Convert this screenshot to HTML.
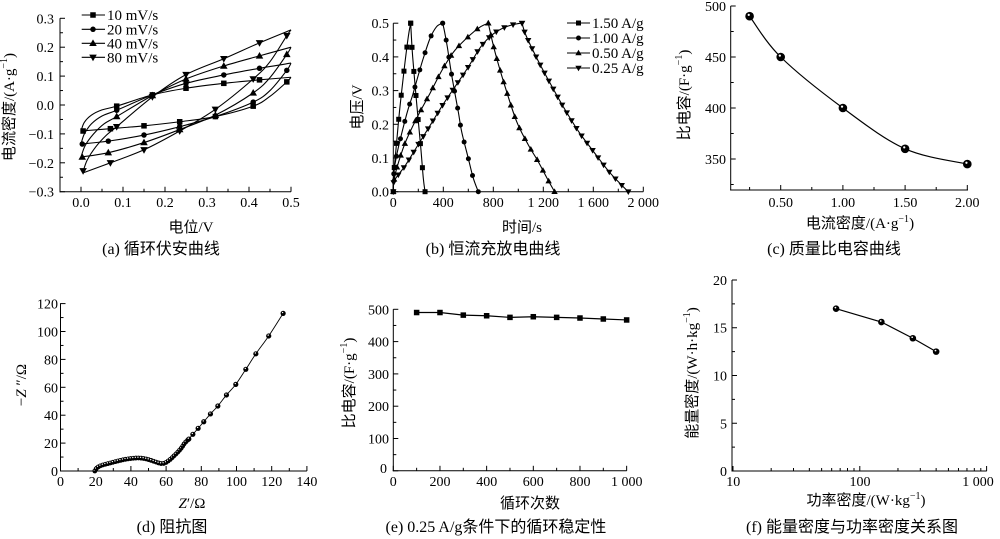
<!DOCTYPE html>
<html><head><meta charset="utf-8">
<style>
html,body{margin:0;padding:0;background:#fff;}
svg{display:block;}
text{font-family:"Liberation Serif","WenQuanYi Zen Hei","Noto Sans CJK SC",serif;fill:#000;}
.t{font-size:14px;}
.lg{font-size:15px;}
.al{font-size:15px;font-family:"Liberation Serif","WenQuanYi Zen Hei","Noto Sans CJK SC",sans-serif;}
.cp{font-size:16px;font-family:"Liberation Serif","WenQuanYi Zen Hei","Noto Sans CJK SC",sans-serif;}
</style></head><body>
<svg id="s" width="1000" height="539" viewBox="0 0 1000 539" xmlns="http://www.w3.org/2000/svg">
<rect width="1000" height="539" fill="#fff"/>

<!-- (a) -->
<g class="t" text-anchor="end">
<text x="54" y="23.3">0.3</text><text x="54" y="52.2">0.2</text><text x="54" y="81.1">0.1</text><text x="54" y="110">0.0</text>
<text x="54" y="138.9">−0.1</text><text x="54" y="167.8">−0.2</text><text x="54" y="196.7">−0.3</text>
</g>
<g class="t" text-anchor="middle">
<text x="81" y="207">0.0</text><text x="123" y="207">0.1</text><text x="165" y="207">0.2</text><text x="207" y="207">0.3</text><text x="249" y="207">0.4</text><text x="291" y="207">0.5</text>
</g>
<g class="lg">
<text x="107" y="20">10 mV/s</text><text x="107" y="34.3">20 mV/s</text><text x="107" y="48.3">40 mV/s</text><text x="107" y="62.3">80 mV/s</text>
</g>
<text class="al" text-anchor="middle" dominant-baseline="central" transform="rotate(-90 10 107)" x="10" y="107">电流密度/(A·g<tspan font-size="10" dy="-6">−1</tspan><tspan dy="6">)</tspan></text>
<text class="al" text-anchor="middle" x="191" y="232">电位/V</text>
<text class="cp" text-anchor="middle" x="161" y="254">(a) 循环伏安曲线</text>

<!-- (b) -->
<g class="t" text-anchor="end">
<text x="389" y="28.2">0.5</text><text x="389" y="61.9">0.4</text><text x="389" y="95.6">0.3</text><text x="389" y="129.3">0.2</text><text x="389" y="163">0.1</text><text x="389" y="196.7">0.0</text>
</g>
<g class="t" text-anchor="middle">
<text x="393.3" y="207">0</text><text x="443.3" y="207">400</text><text x="493.3" y="207">800</text><text x="543.3" y="207">1 200</text><text x="593.3" y="207">1 600</text><text x="643.3" y="207">2 000</text>
</g>
<g class="lg">
<text x="592" y="28">1.50 A/g</text><text x="592" y="43">1.00 A/g</text><text x="592" y="58">0.50 A/g</text><text x="592" y="73">0.25 A/g</text>
</g>
<text class="al" text-anchor="middle" dominant-baseline="central" transform="rotate(-90 358 107)" x="358" y="107">电压/V</text>
<text class="al" text-anchor="middle" x="522" y="232">时间/s</text>
<text class="cp" text-anchor="middle" x="493" y="254">(b) 恒流充放电曲线</text>

<!-- (c) -->
<g class="t" text-anchor="end">
<text x="726" y="11">500</text><text x="726" y="62">450</text><text x="726" y="113">400</text><text x="726" y="164">350</text>
</g>
<g class="t" text-anchor="middle">
<text x="780.7" y="207">0.50</text><text x="842.9" y="207">1.00</text><text x="905.1" y="207">1.50</text><text x="967.3" y="207">2.00</text>
</g>
<text class="al" text-anchor="middle" dominant-baseline="central" transform="rotate(-90 685 95)" x="685" y="95">比电容/(F·g<tspan font-size="10" dy="-6">−1</tspan><tspan dy="6">)</tspan></text>
<text class="al" text-anchor="middle" x="860" y="228">电流密度/(A·g<tspan font-size="10" dy="-6">−1</tspan><tspan dy="6">)</tspan></text>
<text class="cp" text-anchor="middle" x="834" y="254">(c) 质量比电容曲线</text>

<!-- (d) -->
<g class="t" text-anchor="end">
<text x="58" y="308.6">120</text><text x="58" y="336.5">100</text><text x="58" y="364.4">80</text><text x="58" y="392.3">60</text><text x="58" y="420.2">40</text><text x="58" y="448.1">20</text><text x="58" y="476">0</text>
</g>
<g class="t" text-anchor="middle">
<text x="60.5" y="486">0</text><text x="95.7" y="486">20</text><text x="130.9" y="486">40</text><text x="166.1" y="486">60</text><text x="201.3" y="486">80</text><text x="236.5" y="486">100</text><text x="271.7" y="486">120</text><text x="306.9" y="486">140</text>
</g>
<text class="al" text-anchor="middle" dominant-baseline="central" transform="rotate(-90 22 385)" x="22" y="385">−<tspan font-style="italic">Z</tspan> ″/Ω</text>
<text class="al" text-anchor="middle" x="192" y="508"><tspan font-style="italic">Z</tspan>′/Ω</text>
<text class="cp" text-anchor="middle" x="172" y="532">(d) 阻抗图</text>

<!-- (e) -->
<g class="t" text-anchor="end">
<text x="389" y="314.3">500</text><text x="389" y="346.6">400</text><text x="389" y="378.9">300</text><text x="389" y="411.2">200</text><text x="389" y="443.5">100</text><text x="387" y="473">0</text>
</g>
<g class="t" text-anchor="middle">
<text x="393.3" y="486">0</text><text x="440" y="486">200</text><text x="486.7" y="486">400</text><text x="533.3" y="486">600</text><text x="580" y="486">800</text><text x="626.7" y="486">1 000</text>
</g>
<text class="al" text-anchor="middle" dominant-baseline="central" transform="rotate(-90 350 383)" x="350" y="383">比电容/(F·g<tspan font-size="10" dy="-6">−1</tspan><tspan dy="6">)</tspan></text>
<text class="al" text-anchor="middle" x="530" y="508">循环次数</text>
<text class="cp" text-anchor="middle" x="496" y="532">(e) 0.25 A/g条件下的循环稳定性</text>

<!-- (f) -->
<g class="t" text-anchor="end">
<text x="727" y="285">20</text><text x="727" y="332.7">15</text><text x="727" y="380.3">10</text><text x="727" y="428.3">5</text><text x="727" y="476">0</text>
</g>
<g class="t" text-anchor="middle">
<text x="733.3" y="486">10</text><text x="860" y="486">100</text><text x="978" y="486">1 000</text>
</g>
<text class="al" text-anchor="middle" dominant-baseline="central" transform="rotate(-90 693 373)" x="693" y="373">能量密度/(W·h·kg<tspan font-size="10" dy="-6">−1</tspan><tspan dy="6">)</tspan></text>
<text class="al" text-anchor="middle" x="866" y="505">功率密度/(W·kg<tspan font-size="10" dy="-6">−1</tspan><tspan dy="6">)</tspan></text>
<text class="cp" text-anchor="middle" x="852" y="532">(f) 能量密度与功率密度关系图</text>
</svg>

<script>
const NS="http://www.w3.org/2000/svg";
const svg=document.getElementById('s');
function el(tag,attrs){const e=document.createElementNS(NS,tag);for(const k in attrs)e.setAttribute(k,attrs[k]);svg.appendChild(e);return e;}
function line(x1,y1,x2,y2,w){el('line',{x1:x1,y1:y1,x2:x2,y2:y2,stroke:'#000','stroke-width':w||1});}
function cr(pts){
  let d='M'+pts[0][0].toFixed(2)+','+pts[0][1].toFixed(2);
  for(let i=0;i<pts.length-1;i++){
    const p0=pts[i-1]||pts[i],p1=pts[i],p2=pts[i+1],p3=pts[i+2]||p2;
    const c1=[p1[0]+(p2[0]-p0[0])/6,p1[1]+(p2[1]-p0[1])/6];
    const c2=[p2[0]-(p3[0]-p1[0])/6,p2[1]-(p3[1]-p1[1])/6];
    d+='C'+c1[0].toFixed(2)+','+c1[1].toFixed(2)+' '+c2[0].toFixed(2)+','+c2[1].toFixed(2)+' '+p2[0].toFixed(2)+','+p2[1].toFixed(2);
  }
  return d;
}
function poly(pts){return 'M'+pts.map(p=>p[0].toFixed(2)+','+p[1].toFixed(2)).join('L');}
function path(d,w){return el('path',{d:d,fill:'none',stroke:'#000','stroke-width':w||1.1});}
function mk(t,x,y,s){
  if(t=='sq') el('rect',{x:x-s/2,y:y-s/2,width:s,height:s,fill:'#000'});
  else if(t=='ci') el('circle',{cx:x,cy:y,r:s/2,fill:'#000'});
  else if(t=='up') el('polygon',{points:x+','+(y-s*0.6)+' '+(x-s*0.58)+','+(y+s*0.42)+' '+(x+s*0.58)+','+(y+s*0.42),fill:'#000'});
  else if(t=='dn') el('polygon',{points:x+','+(y+s*0.6)+' '+(x-s*0.58)+','+(y-s*0.42)+' '+(x+s*0.58)+','+(y-s*0.42),fill:'#000'});
  else if(t=='ball'){el('circle',{cx:x,cy:y,r:s/2,fill:'#000'});el('circle',{cx:x-s*0.1,cy:y-s*0.16,r:Math.max(0.7,s*0.13),fill:'#fff'});}
}
function axes(x0,y0,x1,y1,xt,yt){
  line(x0,y0+0.5,x0,y1);line(x0-0.5,y0,x1,y0);
  yt.forEach(a=>line(x0,a[0],x0+(a[1]?5:3),a[0]));
  xt.forEach(a=>line(a[0],y0,a[0],y0-(a[1]?5:3)));
}
function tk(n0,n1,step,me,map){const a=[];for(let i=n0;i<=n1;i++){a.push([map(i*step),Math.abs(i%me)===0]);}return a;}

/* ---------- (a) ---------- */
{
const X=x=>81+x*420,Y=y=>105-y*289;
axes(60,191.7,291,18.3,tk(0,10,0.05,2,X),tk(-6,6,0.05,2,Y));
const P=a=>a.map(p=>[X(p[0]),Y(p[1])]);
const S=[
 {t:'sq',s:5.5,
  u:[[0,-0.09],[0.008,-0.06],[0.025,-0.035],[0.05,-0.017],[0.085,-0.004],[0.17,0.035],[0.25,0.058],[0.34,0.075],[0.425,0.087],[0.5,0.096]],
  l:[[0.5,0.096],[0.49,0.08],[0.45,0.03],[0.41,-0.004],[0.32,-0.04],[0.235,-0.058],[0.15,-0.072],[0.07,-0.082],[0.0,-0.09]],
  m:[[0.005,-0.09],[0.085,-0.004],[0.17,0.035],[0.25,0.058],[0.34,0.075],[0.425,0.087],[0.49,0.08],[0.41,-0.004],[0.32,-0.04],[0.235,-0.058],[0.15,-0.072],[0.07,-0.082]]},
 {t:'ci',s:5.5,
  u:[[0,-0.135],[0.008,-0.1],[0.025,-0.065],[0.05,-0.038],[0.085,-0.018],[0.17,0.035],[0.25,0.075],[0.34,0.104],[0.425,0.127],[0.5,0.145]],
  l:[[0.5,0.145],[0.49,0.12],[0.45,0.05],[0.41,0.01],[0.32,-0.04],[0.235,-0.075],[0.15,-0.104],[0.065,-0.125],[0,-0.135]],
  m:[[0.003,-0.135],[0.085,-0.018],[0.17,0.035],[0.25,0.075],[0.34,0.104],[0.425,0.127],[0.49,0.12],[0.41,0.01],[0.32,-0.04],[0.235,-0.075],[0.15,-0.104],[0.065,-0.125]]},
 {t:'up',s:6.5,
  u:[[0,-0.18],[0.01,-0.14],[0.03,-0.1],[0.055,-0.065],[0.085,-0.04],[0.17,0.033],[0.25,0.09],[0.34,0.135],[0.425,0.17],[0.5,0.2]],
  l:[[0.5,0.2],[0.49,0.175],[0.45,0.095],[0.41,0.042],[0.32,-0.035],[0.235,-0.085],[0.15,-0.13],[0.065,-0.165],[0,-0.18]],
  m:[[0.003,-0.18],[0.085,-0.04],[0.17,0.033],[0.25,0.09],[0.34,0.135],[0.425,0.17],[0.49,0.175],[0.41,0.042],[0.32,-0.035],[0.235,-0.085],[0.15,-0.13],[0.065,-0.165]]},
 {t:'dn',s:6.5,
  u:[[0.005,-0.23],[0.015,-0.19],[0.035,-0.145],[0.06,-0.105],[0.085,-0.075],[0.17,0.028],[0.25,0.105],[0.34,0.16],[0.425,0.215],[0.5,0.26]],
  l:[[0.5,0.26],[0.49,0.24],[0.45,0.15],[0.41,0.09],[0.32,-0.015],[0.235,-0.09],[0.15,-0.155],[0.07,-0.2],[0.005,-0.235]],
  m:[[0.005,-0.228],[0.085,-0.075],[0.17,0.028],[0.25,0.105],[0.34,0.16],[0.425,0.215],[0.49,0.24],[0.41,0.09],[0.32,-0.015],[0.235,-0.09],[0.15,-0.155],[0.07,-0.2]]}
];
S.forEach(s=>{path(cr(P(s.u)));path(cr(P(s.l)));P(s.m).forEach(p=>mk(s.t,p[0],p[1],s.s));});
const ly=[15,29.3,43.3,57.3];
S.forEach((s,i)=>{line(81.7,ly[i],105,ly[i],1.1);mk(s.t,93,ly[i],s.s);});
}

/* ---------- (b) ---------- */
{
const X=t=>393.3+t/8,Y=v=>191.7-v*337;
axes(393.3,191.7,643.3,23.3,tk(0,10,200,2,X),tk(0,10,0.05,2,Y));
const P=a=>a.map(p=>[X(p[0]),Y(p[1])]);
const S=[
 {t:'sq',s:5,sp:26,c:[[0,0],[3,0.05],[20,0.12],[50,0.24],[86,0.36],[120,0.46],[139,0.5]],d:[[139,0.5],[155,0.4],[190,0.25],[220,0.13],[240,0.04],[254,0]]},
 {t:'ci',s:5,sp:18,c:[[0,0],[3,0.05],[27,0.109],[107,0.23],[155,0.287],[200,0.346],[240,0.396],[294,0.455],[347,0.49],[395,0.5]],d:[[395,0.5],[410,0.475],[432,0.43],[467,0.346],[520,0.237],[547,0.178],[600,0.099],[640,0.04],[680,0]]},
 {t:'up',s:5.5,sp:12.5,c:[[0,0],[4,0.03],[27,0.069],[94,0.144],[187,0.218],[294,0.292],[360,0.34],[414,0.376],[494,0.42],[614,0.465],[700,0.49],[760,0.5]],d:[[760,0.5],[790,0.45],[827,0.396],[894,0.312],[987,0.208],[1080,0.139],[1160,0.089],[1230,0.04],[1290,0]]},
 {t:'dn',s:5.5,sp:9,c:[[0,0],[5,0.03],[50,0.055],[100,0.08],[200,0.14],[300,0.2],[400,0.26],[500,0.315],[600,0.37],[700,0.43],[800,0.468],[900,0.489],[1000,0.499],[1030,0.5]],d:[[1030,0.5],[1060,0.465],[1150,0.395],[1250,0.325],[1360,0.252],[1480,0.18],[1600,0.12],[1720,0.062],[1820,0.022],[1880,0]]}
];
S.forEach(s=>{
  [s.c,s.d].forEach(seg=>{
    const p=path(cr(P(seg)));
    const L=p.getTotalLength();
    const n=Math.max(1,Math.round(L/s.sp));
    for(let k=0;k<=n;k++){const q=p.getPointAtLength(L*k/n);mk(s.t,q.x,q.y,s.s);}
  });
});
const ly=[23,38,53,68];
S.forEach((s,i)=>{line(567,ly[i],590,ly[i],1.1);mk(s.t,578.5,ly[i],s.s);});
}

/* ---------- (c) ---------- */
{
const X=x=>780.7+(x-0.5)*124.4,Y=v=>159-(v-350)*1.02;
axes(730.7,190,968,6,tk(1,8,0.25,2,X),tk(13,20,25,2,Y));
const pts=[[0.25,490],[0.5,450],[1.0,400],[1.5,360],[2.0,345]].map(p=>[X(p[0]),Y(p[1])]);
path(cr(pts),1.2);
pts.forEach(p=>mk('ball',p[0],p[1],8.6));
}

/* ---------- (d) ---------- */
{
const X=z=>60.5+z*1.76,Y=v=>471-v*1.395;
axes(60.5,471,306.9,303.3,tk(0,14,10,2,X),tk(0,12,10,2,Y));
const low=[[19.5,0],[20,1.2],[21,2.5],[22.5,3.6],[24.5,4.5],[27,5.3],[30,6.3],[34,7.6],[38,8.6],[42,9.2],[45,9.3],[48,8.8],[51,7.8],[54,6.5],[56.5,5.5],[58,5.3],[59.5,5.8],[61,7],[63,9],[65,11.5],[67,14],[69,17],[70.5,19.9]];
const hi=[[72.9,22.9],[75.2,26.3],[78.2,30.6],[81.4,35.3],[85.2,40.9],[89.4,46.6],[94.3,54.5],[99.6,62.1],[105.3,72.9],[111,84],[118.3,96.8],[126.5,113]];
const all=low.concat(hi).map(p=>[X(p[0]),Y(p[1])]);
path(cr(all),0.9);
const lp=path(cr(low.concat([hi[0]]).map(q=>[X(q[0]),Y(q[1])])),0);
lp.setAttribute('stroke','none');
const L=lp.getTotalLength();
for(let s=0;s<=L;s+=2.6){const q=lp.getPointAtLength(s);mk('ball',q.x,q.y,4.8);}
hi.forEach(q=>mk('ball',X(q[0]),Y(q[1]),5.2));
}

/* ---------- (e) ---------- */
{
const X=n=>393.3+n*0.23335,Y=v=>470.8-v*0.323;
axes(393.3,470.8,626.7,309.3,tk(0,10,100,2,X),tk(0,10,50,2,Y));
const pts=[[100,490],[200,490],[300,482],[400,480],[500,475],[600,477],[700,475],[800,473],[900,470],[1000,467]].map(p=>[X(p[0]),Y(p[1])]);
path(poly(pts),1.2);
pts.forEach(p=>mk('sq',p[0],p[1],5.5));
}

/* ---------- (f) ---------- */
{
const X=p=>733+Math.log10(p/10)*126.8,Y=e=>471-e*9.55;
const xt=[];
[10,100].forEach(b=>{for(let k=1;k<=9;k++){xt.push([X(b*k),k===1]);}});
xt.push([X(1000),true]);
axes(732,471,986.8,280,xt,tk(0,8,2.5,2,Y));
const pts=[[65,17],[148,15.6],[262,13.9],[400,12.5]].map(p=>[X(p[0]),Y(p[1])]);
path(poly(pts),1.2);
pts.forEach(p=>mk('ball',p[0],p[1],6.6));
}
</script>
</body></html>
